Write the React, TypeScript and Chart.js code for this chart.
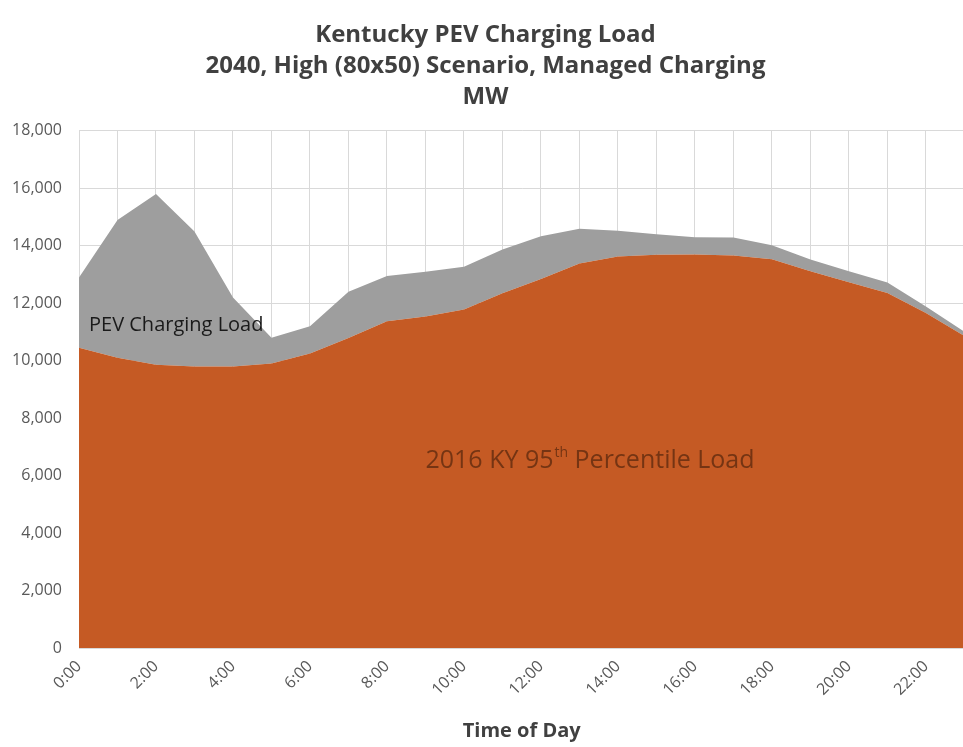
import React, { useEffect, useRef } from "react";
import { Chart, registerables } from "chart.js";

Chart.register(...registerables);

const HOURS = [
  "0:00", "1:00", "2:00", "3:00", "4:00", "5:00", "6:00", "7:00",
  "8:00", "9:00", "10:00", "11:00", "12:00", "13:00", "14:00", "15:00",
  "16:00", "17:00", "18:00", "19:00", "20:00", "21:00", "22:00", "23:00",
];

// 2016 KY 95th percentile load (MW)
const BASE_LOAD = [
  10450, 10100, 9860, 9800, 9800, 9900, 10250, 10790,
  11370, 11540, 11780, 12350, 12840, 13380, 13630, 13690,
  13700, 13660, 13530, 13110, 12730, 12360, 11660, 10860,
];

// PEV charging load stacked on top (MW)
const PEV_LOAD = [
  2450, 4800, 5940, 4700, 2400, 900, 950, 1610,
  1580, 1560, 1490, 1520, 1490, 1210, 890, 710,
  600, 630, 490, 410, 380, 360, 230, 150,
];

const TITLE_LINES = [
  "Kentucky PEV Charging Load",
  "2040, High (80x50) Scenario, Managed Charging",
  "MW",
];
const X_TITLE = "Time of Day";
const Y_MIN = 0;
const Y_MAX = 18000;
const Y_STEP = 2000;
const PEV_LABEL = "PEV Charging Load";
const BASE_LABEL_PARTS = ["2016 KY 95", "th", " Percentile Load"];

const FONT = "'Open Sans', 'Liberation Sans', sans-serif";

const labelPlugin = {
  id: "areaLabels",
  afterDatasetsDraw(chart: any) {
    const ctx = chart.ctx;
    const x = chart.scales.x;
    const y = chart.scales.y;
    ctx.save();
    // PEV label
    ctx.font = `20px ${FONT}`;
    ctx.fillStyle = "#1a1a1a";
    ctx.textBaseline = "middle";
    ctx.textAlign = "left";
    ctx.fillText(PEV_LABEL, x.getPixelForValue(0) + 10, y.getPixelForValue(11250));

    // Base load label with superscript
    const bx0 = x.getPixelForValue(9);
    const by = y.getPixelForValue(6500);
    ctx.fillStyle = "rgba(90,40,14,0.75)";
    ctx.font = `25px ${FONT}`;
    let cx = bx0;
    ctx.fillText(BASE_LABEL_PARTS[0], cx, by);
    cx += ctx.measureText(BASE_LABEL_PARTS[0]).width + 1;
    ctx.font = `14px ${FONT}`;
    ctx.fillText(BASE_LABEL_PARTS[1], cx, by - 8);
    cx += ctx.measureText(BASE_LABEL_PARTS[1]).width;
    ctx.font = `25px ${FONT}`;
    ctx.fillText(BASE_LABEL_PARTS[2], cx, by);
    ctx.restore();
  },
};

export default function App() {
  const ref = useRef<HTMLCanvasElement | null>(null);

  useEffect(() => {
    if (!ref.current) return;
    const chart = new Chart(ref.current, {
      type: "line",
      data: {
        labels: HOURS,
        datasets: [
          {
            label: "2016 KY 95th Percentile Load",
            data: BASE_LOAD,
            backgroundColor: "#c55a24",
            borderColor: "#c55a24",
            borderWidth: 0,
            pointRadius: 0,
            fill: "origin",
            tension: 0,
          },
          {
            label: "PEV Charging Load",
            data: PEV_LOAD,
            backgroundColor: "#9e9e9e",
            borderColor: "#9e9e9e",
            borderWidth: 0,
            pointRadius: 0,
            fill: "-1",
            tension: 0,
          },
        ],
      },
      options: {
        responsive: false,
        animation: false,
        layout: { padding: { left: 0, right: 16, top: 0, bottom: 4 } },
        plugins: {
          legend: { display: false },
          tooltip: { enabled: false },
          title: {
            display: true,
            text: TITLE_LINES,
            color: "#404040",
            font: { family: FONT, size: 24, weight: "bold", lineHeight: 1.29 },
            padding: { top: 19.5, bottom: 18.5 },
          },
        },
        scales: {
          x: {
            grid: { color: "#d9d9d9", drawTicks: false, lineWidth: 1 },
            border: { color: "#d9d9d9" },
            ticks: {
              autoSkip: false,
              maxRotation: 45,
              minRotation: 45,
              padding: 9,
              color: "#595959",
              font: { family: FONT, size: 16 },
              callback: (_v: any, i: number) => (i % 2 === 0 ? HOURS[i] : ""),
            },
            title: {
              display: true,
              text: X_TITLE,
              color: "#404040",
              font: { family: FONT, size: 20, weight: "bold", lineHeight: 1.2 },
              padding: { top: 4, bottom: 0 },
            },
            afterFit: (s: any) => {
              s.height = 95;
            },
          },
          y: {
            stacked: true,
            min: Y_MIN,
            max: Y_MAX,
            grid: { color: "#d9d9d9", drawTicks: false, lineWidth: 1 },
            border: { color: "#d9d9d9" },
            ticks: {
              stepSize: Y_STEP,
              padding: 17,
              color: "#595959",
              font: { family: FONT, size: 16 },
              callback: (v: any) => Number(v).toLocaleString("en-US"),
            },
            afterFit: (s: any) => {
              s.width = 79;
            },
          },
        },
      },
      plugins: [labelPlugin],
    });
    return () => chart.destroy();
  }, []);

  return (
    <div
      style={{
        position: "fixed",
        left: 0,
        top: 0,
        width: 963,
        height: 747,
        overflow: "hidden",
        background: "#ffffff",
      }}
    >
      <canvas ref={ref} width={987} height={747} style={{ width: 987, height: 747, display: "block" }} />
    </div>
  );
}
